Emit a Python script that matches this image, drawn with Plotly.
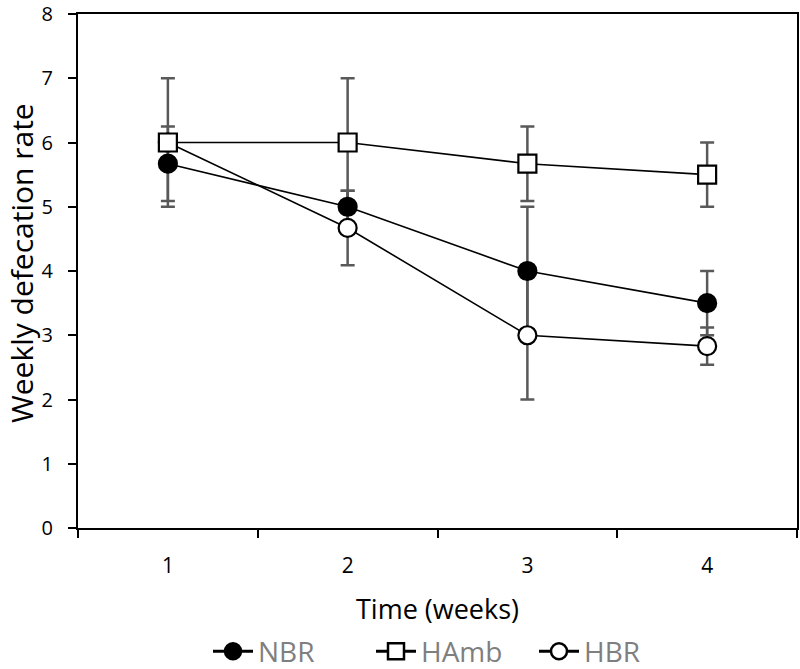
import plotly.graph_objects as go

weeks = ["1", "2", "3", "4"]
nbr = [5.67, 5.0, 4.0, 3.5]
nbr_err = [0.58, 0.25, 1.0, 0.5]
hamb = [6.0, 6.0, 5.67, 5.5]
hamb_err = [1.0, 1.0, 0.58, 0.5]
hbr = [6.0, 4.67, 3.0, 2.83]
hbr_err = [0.0, 0.58, 1.0, 0.29]
y_ticks = [0, 1, 2, 3, 4, 5, 6, 7, 8]

series = [
    ("NBR", nbr, nbr_err, "circle", "black"),
    ("HAmb", hamb, hamb_err, "square", "white"),
    ("HBR", hbr, hbr_err, "circle", "white"),
]

FONT = "Open Sans"
W, H = 800, 669
ML, MR, MT, MB = 78, 3, 14, 141
fig = go.Figure()

# lines first
for name, y, e, sym, fill in series:
    fig.add_trace(go.Scatter(x=weeks, y=y, mode="lines", showlegend=False,
                             line=dict(color="black", width=1.6), hoverinfo="skip"))
# error bars
for name, y, e, sym, fill in series:
    fig.add_trace(go.Scatter(x=weeks, y=y, mode="markers", showlegend=False,
                             marker=dict(size=1, opacity=0),
                             error_y=dict(type="data", array=e, visible=True,
                                          color="#595959", thickness=2.5, width=7),
                             hoverinfo="skip"))
# markers (HAmb on top)
for idx in (2, 0, 1):
    name, y, e, sym, fill = series[idx]
    fig.add_trace(go.Scatter(x=weeks, y=y, mode="markers", showlegend=False,
                             marker=dict(symbol=sym, size=18, color=fill,
                                         line=dict(color="black", width=2.2))))
# legend entries
for name, y, e, sym, fill in series:
    fig.add_trace(go.Scatter(x=[None], y=[None], mode="lines+markers", name=name,
                             line=dict(color="black", width=3),
                             marker=dict(symbol=sym, size=20, color=fill,
                                         line=dict(color="black", width=2.5))))

plot_w = W - ML - MR
plot_h = H - MT - MB

fig.update_layout(
    width=W, height=H,
    margin=dict(l=ML, r=MR, t=MT, b=MB),
    paper_bgcolor="white", plot_bgcolor="white",
    font=dict(family=FONT, size=20, color="black"),
    xaxis=dict(type="category", range=[-0.5, 3.5], tickson="boundaries",
               automargin=False,
               showline=True, linecolor="black", linewidth=2, mirror=True,
               ticks="outside", ticklen=8, tickwidth=2, tickcolor="black",
               showgrid=False, zeroline=False,
               tickfont=dict(size=21), ticklabelstandoff=18,
               title=dict(text="Time (weeks)", font=dict(size=27), standoff=22)),
    yaxis=dict(range=[0, 8.0001], tickmode="array", tickvals=y_ticks,
               ticktext=[str(v) for v in y_ticks], automargin=False,
               ticklabeloverflow="allow",
               showline=True, linecolor="black", linewidth=2, mirror=True,
               ticks="outside", ticklen=8, tickwidth=2, tickcolor="black",
               showgrid=False, zeroline=False,
               tickfont=dict(size=20), ticklabelstandoff=11),
    legend=dict(orientation="h", xref="container", yref="container",
                x=0.26, xanchor="left", y=0.026, yanchor="middle",
                font=dict(size=28, color="#7f7f7f"), itemwidth=40,
                entrywidth=108, entrywidthmode="pixels",
                bgcolor="rgba(0,0,0,0)"),
    annotations=[dict(text="Weekly defecation rate", textangle=-90,
                      xref="paper", yref="paper",
                      x=(21 - ML) / plot_w, y=(H - MB - 263) / plot_h,
                      xanchor="center", yanchor="middle", showarrow=False,
                      font=dict(size=30, color="black", family=FONT))],
)

fig.write_html("out.html", config={"displayModeBar": False})

# remove the browser's default page margin so the figure sits at (0, 0)
with open("out.html", "r", encoding="utf-8") as f:
    html = f.read()
html = html.replace("<head>", "<head><style>html,body{margin:0;padding:0;overflow:hidden;}</style>", 1)
with open("out.html", "w", encoding="utf-8") as f:
    f.write(html)
